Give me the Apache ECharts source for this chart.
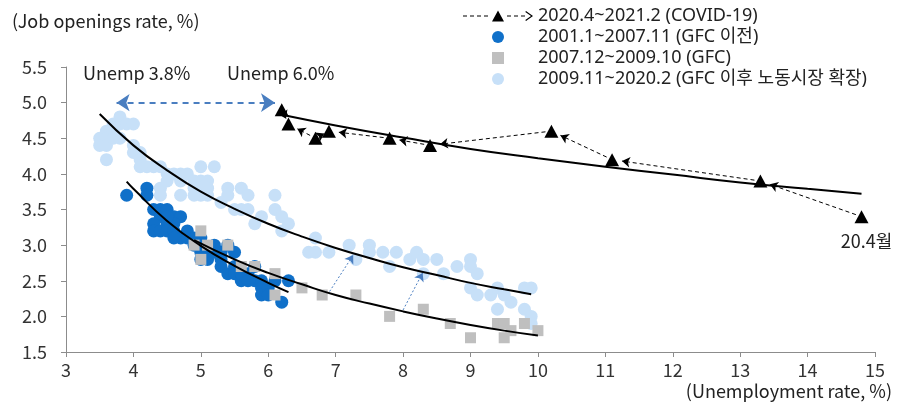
<!DOCTYPE html>
<html><head><meta charset="utf-8">
<script src="https://cdn.jsdelivr.net/npm/echarts@6/dist/echarts.min.js"></script>
<style>html,body{margin:0;padding:0;background:#fff}#c{width:909px;height:406px}</style>
</head><body><div id="c"></div>
<script>
const FONT = '"Noto Sans CJK KR", "Noto Sans", sans-serif';
const LFONT = '"Noto Sans", "Noto Sans CJK KR", sans-serif';

// ---- labels ----
const seriesNames = ['2020.4~2021.2 (COVID-19)', '2001.1~2007.11 (GFC 이전)', '2007.12~2009.10 (GFC)', '2009.11~2020.2 (GFC 이후 노동시장 확장)'];
const yTickLabels = ['1.5','2.0','2.5','3.0','3.5','4.0','4.5','5.0','5.5'];
const xTickLabels = ['3','4','5','6','7','8','9','10','11','12','13','14','15'];
const yAxisTitle = '(Job openings rate, %)';
const xAxisTitle = '(Unemployment rate, %)';
const noteLeft = 'Unemp 3.8%';
const noteRight = 'Unemp 6.0%';

// ---- COVID path (time order: 2020.4 -> 2021.2) ----
const covidX = [14.8, 13.3, 11.1, 10.2, 8.4, 7.8, 6.9, 6.7, 6.3, 6.2];
const covidY = [3.4, 3.9, 4.2, 4.6, 4.4, 4.5, 4.6, 4.5, 4.7, 4.9];
const covidLabels = ['20.4월', '', '', '', '', '', '', '', '', ''];

// ---- scatter groups ----
const preGfc = [[3.9,3.7],[4.2,3.8],[4.2,3.7],[4.3,3.5],[4.4,3.5],[4.4,3.4],[4.3,3.3],[4.5,3.3],[4.5,3.5],[4.6,3.4],[4.7,3.4],[4.6,3.3],[4.5,3.4],[4.3,3.2],[4.4,3.2],[4.5,3.2],[4.6,3.2],[4.7,3.1],[4.8,3.2],[4.6,3.1],[4.8,3.1],[4.9,3.0],[5.0,3.0],[5.0,2.9],[5.1,2.9],[5.1,2.8],[5.2,2.9],[5.3,2.9],[5.2,3.0],[5.4,3.0],[5.5,2.9],[5.3,2.8],[5.3,2.7],[5.4,2.6],[5.5,2.7],[5.5,2.6],[5.6,2.5],[5.7,2.6],[5.6,2.6],[5.8,2.5],[5.7,2.5],[5.9,2.5],[5.9,2.4],[5.9,2.3],[6.0,2.4],[6.0,2.3],[6.1,2.5],[6.3,2.5],[6.2,2.2],[5.8,2.7],[5.0,2.8],[4.9,3.1],[5.0,3.1]];
const gfc = [[4.9,3.0],[5.0,3.2],[5.1,3.0],[5.0,2.8],[5.4,3.0],[5.6,2.7],[5.8,2.7],[6.1,2.6],[6.1,2.3],[6.5,2.4],[6.8,2.3],[7.3,2.3],[7.8,2.0],[8.3,2.1],[8.7,1.9],[9.0,1.7],[9.4,1.9],[9.5,1.9],[9.5,1.7],[9.6,1.8],[9.8,1.9],[10.0,1.8]];
const postGfc = [[3.8,4.8],[3.7,4.7],[3.8,4.7],[3.9,4.7],[4.0,4.7],[3.6,4.6],[3.7,4.6],[3.5,4.5],[3.6,4.5],[3.8,4.5],[3.5,4.4],[3.6,4.4],[3.7,4.5],[4.0,4.4],[3.6,4.2],[4.0,4.3],[4.1,4.3],[4.1,4.2],[4.1,4.1],[4.2,4.1],[4.3,4.1],[4.4,4.1],[4.5,4.0],[4.6,4.0],[4.7,4.0],[4.8,4.0],[4.5,3.9],[4.7,3.9],[4.9,3.9],[5.0,3.9],[5.1,3.9],[5.0,4.1],[5.2,4.1],[4.4,3.8],[4.4,3.7],[4.7,3.7],[4.9,3.7],[5.0,3.7],[5.1,3.7],[4.9,3.8],[5.0,3.8],[5.1,3.8],[5.4,3.8],[5.6,3.8],[5.7,3.7],[5.4,3.7],[5.3,3.6],[5.5,3.5],[5.6,3.5],[5.7,3.5],[5.9,3.4],[5.8,3.3],[6.1,3.7],[6.1,3.5],[6.2,3.4],[6.3,3.3],[6.2,3.2],[6.7,3.1],[6.6,2.9],[6.7,2.9],[6.9,2.9],[7.2,3.0],[7.3,2.8],[7.5,3.0],[7.5,2.9],[7.7,2.9],[7.8,2.7],[7.9,2.9],[8.1,2.8],[8.2,2.9],[8.3,2.8],[8.3,2.6],[8.5,2.8],[8.6,2.6],[8.8,2.7],[9.0,2.8],[9.0,2.7],[9.1,2.6],[9.0,2.4],[9.1,2.3],[9.3,2.3],[9.4,2.4],[9.4,2.1],[9.6,2.2],[9.5,2.3],[9.8,2.4],[9.9,2.4],[9.8,2.1],[9.9,2.0],[9.9,1.9]];

// ---- trend curves ----
const covidTrend = [[6.2,4.83],[7,4.68],[8,4.51],[9,4.35],[10,4.22],[11,4.1],[12,3.99],[13,3.88],[14,3.79],[14.8,3.72]];
const postTrend = [[3.5,4.84],[4.0,4.40],[4.5,4.05],[5.0,3.75],[5.5,3.51],[6.0,3.30],[6.5,3.12],[7.0,2.96],[7.5,2.82],[8.0,2.69],[8.5,2.58],[9.0,2.47],[9.5,2.38],[9.9,2.31]];
const preTrend = [[3.9,3.89],[4.0,3.79],[4.5,3.34],[5.0,2.99],[5.5,2.71],[6.0,2.47],[6.3,2.34]];
const gfcTrend = [[4.9,3.07],[5.5,2.80],[6.0,2.61],[6.5,2.45],[7.0,2.30],[7.5,2.18],[8.0,2.07],[8.5,1.97],[9.0,1.88],[9.5,1.80],[10.0,1.73]];

// ---- annotation arrows ----
const spanArrow = [[3.75, 5.0], [6.1, 5.0]];
const shiftArrows = [[[6.91, 2.35], [7.26, 2.86]], [[8.0, 2.09], [8.29, 2.61]]];

const C_DARK = '#1070C9', C_LIGHT = '#C7E0F8', C_GREY = '#BFBFBF', C_ARROW = '#4A7EC0';

const covidPts = covidX.map((x, i) => ({
  value: [x, covidY[i]],
  label: covidLabels[i] ? {show: true, formatter: covidLabels[i], position: 'bottom', distance: 9, offset: [5, 0], fontSize: 18, color: '#222', fontFamily: FONT} : {show: false}
}));
const covidSegs = [];
for (let i = 0; i < covidX.length - 1; i++) {
  covidSegs.push({coords: [[covidX[i], covidY[i]], [covidX[i+1], covidY[i+1]]]});
}

const legendIcon = 'path://M0 5.5L4 5.5L4 6.5L0 6.5Z M7 5.5L11 5.5L11 6.5L7 6.5Z M14 5.5L18 5.5L18 6.5L14 6.5Z M21 5.5L25 5.5L25 6.5L21 6.5Z M29 11.5L35 0.5L41 11.5Z M44 5.5L48 5.5L48 6.5L44 6.5Z M51 5.5L55 5.5L55 6.5L51 6.5Z M58 5.5L62 5.5L62 6.5L58 6.5Z M63 1L70 6L63 11L62.3 10L68 6L62.3 2Z';
const squareIcon = 'path://M0 0L11 0L11 11L0 11Z';

const chart = echarts.init(document.getElementById('c'), null, {renderer: 'canvas'});
const axisCol = '#8C8C8C';
const option = {
  animation: false,
  textStyle: {fontFamily: FONT},
  grid: {left: 66, right: 34, top: 67, bottom: 54},
  legend: {
    orient: 'vertical', left: 458, top: 2, itemGap: 3, itemWidth: 70, itemHeight: 12,
    selectedMode: false,
    textStyle: {fontSize: 18, lineHeight: 18, color: '#222', fontFamily: LFONT},
    data: [
      {name: seriesNames[0], icon: legendIcon},
      {name: seriesNames[1], icon: 'circle'},
      {name: seriesNames[2], icon: squareIcon},
      {name: seriesNames[3], icon: 'circle'}
    ]
  },
  xAxis: {
    type: 'value', min: 3, max: 15, interval: 1,
    axisLine: {show: true, lineStyle: {color: axisCol}},
    axisTick: {show: true, length: 5, lineStyle: {color: axisCol}},
    axisLabel: {fontSize: 18, color: '#333', margin: 9, formatter: v => xTickLabels[Math.round(v - 3)]},
    splitLine: {show: false}
  },
  yAxis: {
    type: 'value', min: 1.5, max: 5.5, interval: 0.5,
    axisLine: {show: true, lineStyle: {color: axisCol}},
    axisTick: {show: true, length: 5, lineStyle: {color: axisCol}},
    axisLabel: {fontSize: 18, color: '#333', margin: 19, formatter: v => yTickLabels[Math.round((v - 1.5) / 0.5)]},
    splitLine: {show: false}
  },
  graphic: [
    {type: 'text', left: 12, top: 12, style: {text: yAxisTitle, font: '18px ' + FONT, fill: '#222'}},
    {type: 'text', right: 17, top: 382, style: {text: xAxisTitle, font: '18px ' + FONT, fill: '#222'}},
    {type: 'text', left: 83, top: 64, style: {text: noteLeft, font: '18px ' + FONT, fill: '#222'}},
    {type: 'text', left: 227, top: 64, style: {text: noteRight, font: '18px ' + FONT, fill: '#222'}}
  ],
  series: [
    {name: seriesNames[3], type: 'scatter', symbol: 'circle', symbolSize: 13, itemStyle: {color: C_LIGHT, opacity: 1}, data: postGfc, z: 2},
    {name: seriesNames[1], type: 'scatter', symbol: 'circle', symbolSize: 13, itemStyle: {color: C_DARK, opacity: 1}, data: preGfc, z: 3},
    {name: seriesNames[2], type: 'scatter', symbol: 'rect', symbolSize: 11, itemStyle: {color: C_GREY, opacity: 1}, data: gfc, z: 4},
    {type: 'line', data: postTrend, smooth: true, showSymbol: false, symbol: 'none', lineStyle: {color: '#000', width: 2}, z: 6, silent: true},
    {type: 'line', data: preTrend, smooth: true, showSymbol: false, symbol: 'none', lineStyle: {color: '#000', width: 2}, z: 6, silent: true},
    {type: 'line', data: gfcTrend, smooth: true, showSymbol: false, symbol: 'none', lineStyle: {color: '#000', width: 2}, z: 6, silent: true},
    {type: 'line', data: covidTrend, smooth: true, showSymbol: false, symbol: 'none', lineStyle: {color: '#000', width: 2}, z: 6, silent: true},
    {id: 'covidArrows', type: 'lines', coordinateSystem: 'cartesian2d', symbol: ['none', 'arrow'], symbolSize: 8,
      lineStyle: {color: '#000', width: 1, type: [4, 3], opacity: 1}, data: covidSegs, z: 7, silent: true},
    {name: seriesNames[0], type: 'scatter', symbol: 'triangle', symbolSize: [14, 13], itemStyle: {color: '#000', opacity: 1}, data: covidPts, z: 8},
    {type: 'lines', coordinateSystem: 'cartesian2d', symbol: ['arrow', 'arrow'], symbolSize: [13, 14],
      lineStyle: {color: C_ARROW, width: 2, type: [6, 5], opacity: 1}, data: [{coords: spanArrow}], z: 9, silent: true},
    {type: 'lines', coordinateSystem: 'cartesian2d', symbol: ['none', 'arrow'], symbolSize: 8,
      lineStyle: {color: C_ARROW, width: 1, type: [2, 2], opacity: 1}, data: shiftArrows.map(c => ({coords: c})), z: 9, silent: true}
  ]
};
chart.setOption(option);

// shorten COVID arrow segments so the heads sit beside the triangles
function moveToward(from, to, px) {
  const a = chart.convertToPixel({gridIndex: 0}, from);
  const b = chart.convertToPixel({gridIndex: 0}, to);
  const dx = b[0] - a[0], dy = b[1] - a[1], L = Math.hypot(dx, dy);
  return chart.convertFromPixel({gridIndex: 0}, [a[0] + dx / L * px, a[1] + dy / L * px]);
}
const shortSegs = covidSegs.map(s => {
  const p0 = s.coords[0], p1 = s.coords[1];
  return {coords: [moveToward(p0, p1, 6), moveToward(p1, p0, 10)]};
});
chart.setOption({series: [{id: 'covidArrows', data: shortSegs}]});
</script></body></html>
